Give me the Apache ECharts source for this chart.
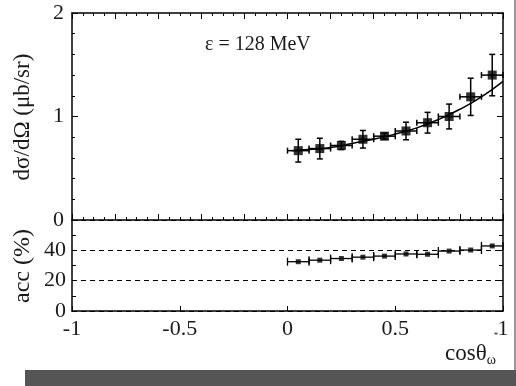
<!DOCTYPE html>
<html>
<head>
<meta charset="utf-8">
<script src="https://cdn.jsdelivr.net/npm/echarts@6/dist/echarts.min.js"></script>
<style>html,body{margin:0;padding:0;background:#fff;}#c{width:516px;height:386px;}</style>
</head>
<body>
<div id="c"></div>
<script>
// ---- data ----
const cosTheta = [0.05, 0.15, 0.25, 0.35, 0.45, 0.55, 0.65, 0.75, 0.85, 0.95];
const binHalf  = [0.05, 0.05, 0.05, 0.05, 0.05, 0.05, 0.05, 0.05, 0.05, 0.05];
const dsig     = [0.67, 0.69, 0.72, 0.78, 0.81, 0.86, 0.94, 1.00, 1.19, 1.40];
const dsigErr  = [0.11, 0.10, 0.04, 0.085, 0.03, 0.085, 0.10, 0.12, 0.18, 0.20];
const fitX     = [0.02, 0.1, 0.2, 0.3, 0.4, 0.5, 0.6, 0.7, 0.8, 0.9, 1.0];
const fitY     = [0.67, 0.68, 0.70, 0.74, 0.78, 0.83, 0.89, 0.97, 1.07, 1.19, 1.34];
const acc      = [32.5, 33.5, 34.6, 35.5, 36.2, 37.6, 37.4, 39.5, 40.2, 42.9];
const accErr   = [0.3, 0.3, 0.3, 0.3, 0.3, 0.3, 0.3, 0.3, 0.3, 0.3];
const xTicks   = [-1, -0.5, 0, 0.5, 1];
const yTopTicks = [0, 1, 2];
const yBotTicks = [0, 20, 40];

const FONT = 'Liberation Serif';
const TXT = '#1a1a1a';

const chart = echarts.init(document.getElementById('c'), null, {renderer: 'canvas'});

const axisLine = {show: true, onZero: false, lineStyle: {color: '#000', width: 1.5}};

function errRender(capV, capH, lw) {
  return function (params, api) {
    const x = api.value(0), y = api.value(1), ey = api.value(2), ex = api.value(3);
    const lo = api.coord([x, y - ey]), hi = api.coord([x, y + ey]);
    const l = api.coord([x - ex, y]), r = api.coord([x + ex, y]);
    const st = {stroke: '#000', lineWidth: lw};
    const ch = [
      {type: 'line', shape: {x1: l[0], y1: l[1], x2: r[0], y2: r[1]}, style: st},
      {type: 'line', shape: {x1: l[0], y1: l[1] - capH, x2: l[0], y2: l[1] + capH}, style: st},
      {type: 'line', shape: {x1: r[0], y1: r[1] - capH, x2: r[0], y2: r[1] + capH}, style: st}
    ];
    if (capV > 0) {
      ch.push({type: 'line', shape: {x1: lo[0], y1: lo[1], x2: hi[0], y2: hi[1]}, style: st});
      ch.push({type: 'line', shape: {x1: lo[0] - capV, y1: lo[1], x2: lo[0] + capV, y2: lo[1]}, style: st});
      ch.push({type: 'line', shape: {x1: hi[0] - capV, y1: hi[1], x2: hi[0] + capV, y2: hi[1]}, style: st});
    }
    return {type: 'group', children: ch};
  };
}

const topErrData = cosTheta.map((x, i) => [x, dsig[i], dsigErr[i], binHalf[i]]);
const botErrData = cosTheta.map((x, i) => [x, acc[i], accErr[i], binHalf[i]]);

const tick = (len) => ({show: true, inside: true, length: len, lineStyle: {color: '#000', width: 1}});
const minor = (n, len) => ({show: true, splitNumber: n, length: len, lineStyle: {color: '#000', width: 1}});

const option = {
  animation: false,
  backgroundColor: '#fff',
  grid: [
    {left: 72, top: 13, width: 431, height: 207},
    {left: 72, top: 220, width: 431, height: 91}
  ],
  xAxis: [
    {gridIndex: 0, type: 'value', position: 'bottom', min: -1, max: 1, interval: 0.2,
     axisLine: axisLine, axisLabel: {show: false},
     axisTick: tick(6), minorTick: minor(4, 3), splitLine: {show: false}},
    {gridIndex: 0, type: 'value', position: 'top', min: -1, max: 1, interval: 0.2,
     axisLine: axisLine, axisLabel: {show: false},
     axisTick: tick(6), minorTick: minor(4, 3), splitLine: {show: false}},
    {gridIndex: 1, type: 'value', position: 'bottom', min: -1, max: 1, interval: 0.5,
     axisLine: axisLine,
     axisLabel: {show: true, fontFamily: FONT, fontSize: 22, color: TXT, margin: 7,
       formatter: v => (xTicks.indexOf(v) >= 0 ? String(v) : '')},
     axisTick: tick(5), splitLine: {show: false}}
  ],
  yAxis: [
    {gridIndex: 0, type: 'value', position: 'left', min: 0, max: 2, interval: 1,
     axisLine: axisLine,
     axisLabel: {show: true, fontFamily: FONT, fontSize: 22, color: TXT, margin: 8,
       formatter: v => (yTopTicks.indexOf(v) >= 0 ? String(v) : '')},
     axisTick: tick(6), minorTick: minor(5, 3), splitLine: {show: false}},
    {gridIndex: 0, type: 'value', position: 'right', min: 0, max: 2, interval: 1,
     axisLine: axisLine, axisLabel: {show: false},
     axisTick: tick(6), minorTick: minor(5, 3), splitLine: {show: false}},
    {gridIndex: 1, type: 'value', position: 'left', min: 0, max: 60, interval: 20,
     axisLine: axisLine,
     axisLabel: {show: true, fontFamily: FONT, fontSize: 22, color: TXT, margin: 6, showMaxLabel: false,
       formatter: v => (yBotTicks.indexOf(v) >= 0 ? String(v) : '')},
     axisTick: tick(4), minorTick: minor(2, 4),
     splitLine: {show: true, lineStyle: {color: '#000', width: 1, type: [5, 4]}}},
    {gridIndex: 1, type: 'value', position: 'right', min: 0, max: 60, interval: 20,
     axisLine: axisLine, axisLabel: {show: false},
     axisTick: tick(4), minorTick: minor(2, 4), splitLine: {show: false}}
  ],
  series: [
    {type: 'line', xAxisIndex: 0, yAxisIndex: 0, smooth: true, symbol: 'none',
     lineStyle: {color: '#000', width: 1.5},
     data: fitX.map((x, i) => [x, fitY[i]]), z: 2},
    {type: 'custom', xAxisIndex: 0, yAxisIndex: 0, renderItem: errRender(3, 3, 1.5),
     encode: {x: 0, y: 1}, data: topErrData, z: 3},
    {type: 'scatter', xAxisIndex: 0, yAxisIndex: 0, symbol: 'rect', symbolSize: 9,
     itemStyle: {color: '#000'}, data: cosTheta.map((x, i) => [x, dsig[i]]), z: 4},
    {type: 'custom', xAxisIndex: 2, yAxisIndex: 2, renderItem: errRender(0, 4, 1.3),
     encode: {x: 0, y: 1}, data: botErrData, z: 3},
    {type: 'scatter', xAxisIndex: 2, yAxisIndex: 2, symbol: 'rect', symbolSize: 5,
     itemStyle: {color: '#000'}, data: cosTheta.map((x, i) => [x, acc[i]]), z: 4}
  ],
  graphic: [
    {type: 'text', x: 23, y: 117, rotation: Math.PI / 2,
     style: {text: 'dσ/dΩ (μb/sr)', font: '23px "Liberation Serif"', fill: TXT, align: 'center', verticalAlign: 'middle'}},
    {type: 'text', x: 23, y: 266, rotation: Math.PI / 2,
     style: {text: 'acc (%)', font: '24px "Liberation Serif"', fill: TXT, align: 'center', verticalAlign: 'middle'}},
    {type: 'text', x: 205, y: 45,
     style: {text: 'ε = 128 MeV', font: '20px "Liberation Serif"', fill: TXT, align: 'left', verticalAlign: 'middle'}},
    {type: 'text', x: 445, y: 354,
     style: {text: '{m|cosθ}{s|ω}', fill: TXT, align: 'left', verticalAlign: 'middle',
       rich: {m: {fontFamily: FONT, fontSize: 23, fill: TXT},
              s: {fontFamily: FONT, fontSize: 14, fill: TXT, padding: [12, 0, 0, 0]}}}},
    {type: 'text', x: 496, y: 336,
     style: {text: '*', font: '9px "Liberation Serif"', fill: TXT, align: 'center', verticalAlign: 'middle'}},
    {type: 'rect', shape: {x: 25, y: 370, width: 491, height: 16}, style: {fill: '#555'}},
    {type: 'line', shape: {x1: 515, y1: 0, x2: 515, y2: 370}, style: {stroke: '#777', lineWidth: 1.5}}
  ]
};
chart.setOption(option);
</script>
</body>
</html>
